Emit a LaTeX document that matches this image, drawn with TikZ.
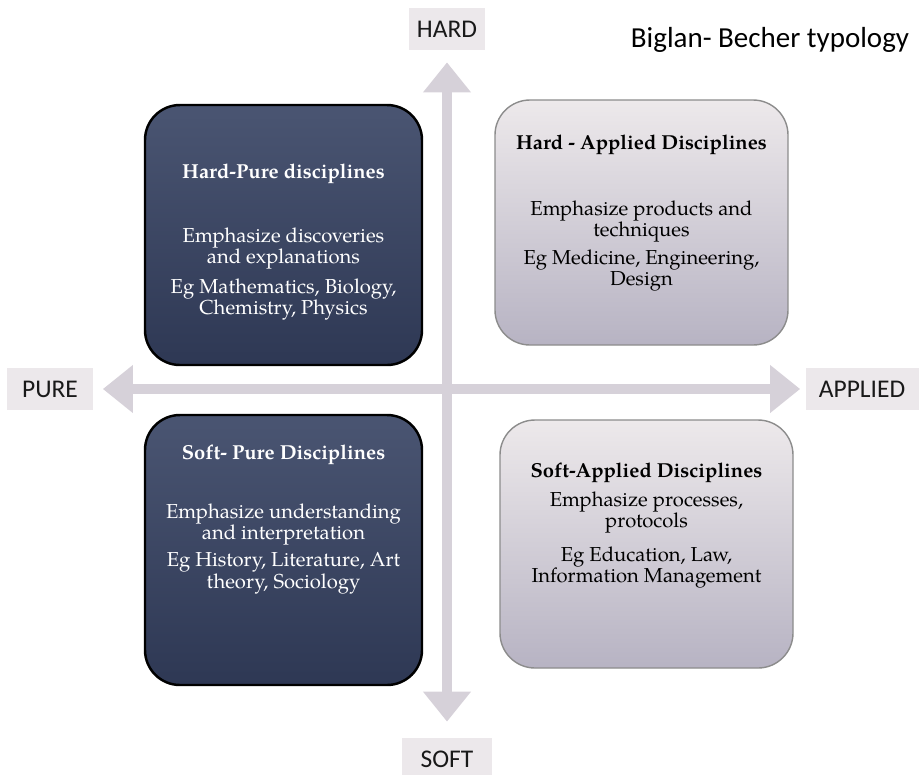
\documentclass[tikz,border=0pt]{standalone}
\usepackage{fontspec}
\setmainfont{TeX Gyre Pagella}
\newfontfamily\labelfont{Carlito}
\usetikzlibrary{arrows.meta,positioning}
\definecolor{navytop}{HTML}{4A5572}
\definecolor{navybot}{HTML}{2E3854}
\definecolor{greytop}{HTML}{EDE9EB}
\definecolor{greybot}{HTML}{B7B3C3}
\definecolor{axisgrey}{HTML}{D6D1D9}
\definecolor{tagfill}{HTML}{ECE8EB}
\tikzset{
  darkbox/.style={draw=black, line width=1.4pt, rounded corners=7mm, top color=navytop, bottom color=navybot},
  lightbox/.style={draw=black!45, line width=0.8pt, rounded corners=7mm, top color=greytop, bottom color=greybot},
  boxtext/.style={align=center, inner sep=0pt, font=\fontsize{11.5}{12}\selectfont},
  tag/.style={fill=tagfill, text=black!90, minimum height=8.4mm, inner xsep=1.5mm, font=\labelfont\fontsize{14.5}{14.5}\selectfont},
  axis/.style={draw=axisgrey, line width=2mm, {Triangle[width=9.2mm,length=6mm]}-{Triangle[width=9.2mm,length=6mm]}}
}
\begin{document}
\begin{tikzpicture}[x=0.2mm, y=-0.2mm]
    \useasboundingbox (0,0) rectangle (919,774);
    \node[tag, minimum width=14.4mm] (hard) at (447,29) {HARD};
    \node[tag, minimum width=18mm] (soft) at (447,759) {SOFT};
    \node[tag, minimum width=17mm] (pure) at (50,389) {PURE};
    \node[tag, minimum width=22.6mm] (applied) at (862,389) {APPLIED};
    \node[font=\labelfont\fontsize{16.5}{16.5}\selectfont] (title) at (770,40) {Biglan- Becher typology};
    \draw[axis, shorten <=2.4mm, shorten >=3.2mm] (hard) -- (soft);
    \draw[axis, shorten <=2mm, shorten >=1mm] (pure) -- (applied);
    \node[darkbox, minimum width=55.4mm, minimum height=52mm] (hp) at (283.5,235) {};
    \node[lightbox, minimum width=58.6mm, minimum height=49mm] (ha) at (641.5,222.5) {};
    \node[darkbox, minimum width=55.4mm, minimum height=54mm] (sp) at (283.5,550) {};
    \node[lightbox, minimum width=58.6mm, minimum height=49.6mm] (sa) at (646.5,544) {};
    \node[boxtext, text=white, below=12mm of hp.north] (hptext) {\textbf{Hard-Pure disciplines}\\[8.5mm]
        Emphasize discoveries\\ and explanations\\[1.8mm] Eg Mathematics, Biology,\\ Chemistry, Physics};
    \node[boxtext, text=black, below=7mm of ha.north] (hatext) {\textbf{Hard - Applied Disciplines}\\[9mm]
        Emphasize products and\\ techniques\\[1.4mm] Eg Medicine, Engineering,\\ Design};
    \node[boxtext, text=white, below=6.2mm of sp.north] (sptext) {\textbf{Soft- Pure Disciplines}\\[7.6mm]
        Emphasize understanding\\ and interpretation\\[1.2mm] Eg History, Literature, Art\\ theory, Sociology};
    \node[boxtext, text=black, below=8.6mm of sa.north] (satext) {\textbf{Soft-Applied Disciplines}\\[1.6mm]
        Emphasize processes,\\ protocols\\[2.6mm] Eg Education, Law,\\ Information Management};
\end{tikzpicture}
\end{document}
